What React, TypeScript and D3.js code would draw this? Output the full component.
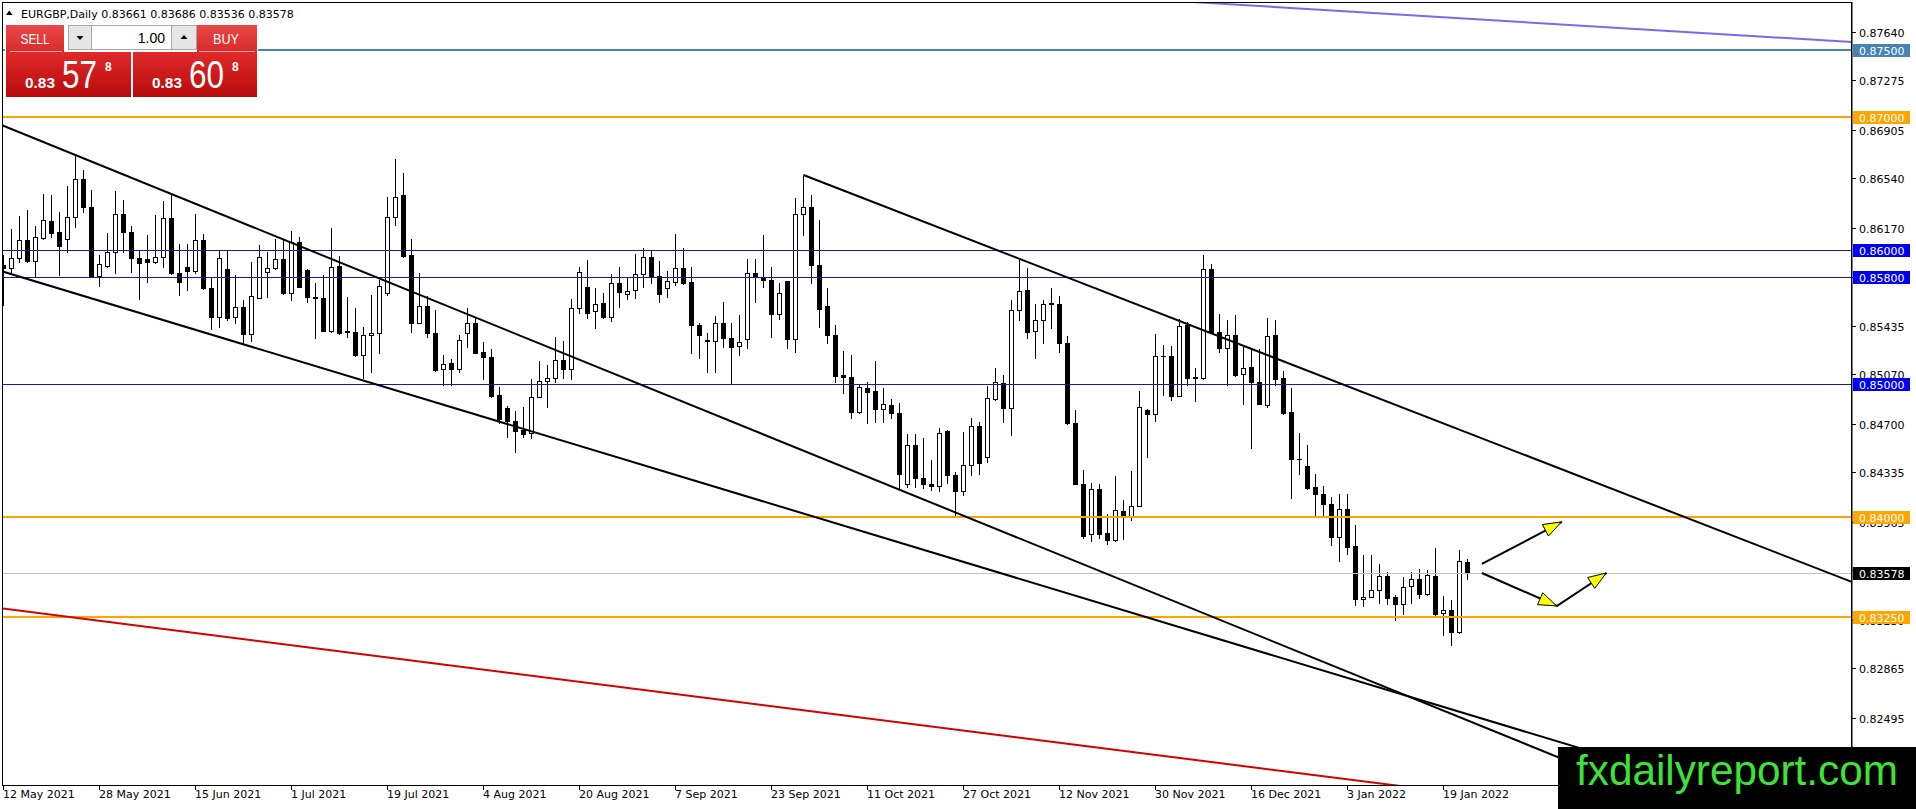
import React from 'react';
import * as d3 from 'd3';

// ---------- DATA ----------
const SYMBOL = 'EURGBP,Daily';
const LAST_OHLC = [0.83661, 0.83686, 0.83536, 0.83578];
const BID = 0.83578;
const SELL_PRICE = ['0.83', '57', '8'];
const BUY_PRICE = ['0.83', '60', '8'];
const LOT = '1.00';

// daily candles [open, high, low, close], 12 May 2021 .. 24 Jan 2022
const ohlc: [number, number, number, number][] = [
  [0.85890, 0.85965, 0.85590, 0.85865], [0.85870, 0.86158, 0.85840, 0.85940], [0.85940, 0.86258, 0.85915, 0.86078],
  [0.86078, 0.86303, 0.85915, 0.85922], [0.85922, 0.86183, 0.85803, 0.86098], [0.86095, 0.86423, 0.86083, 0.86228],
  [0.86220, 0.86415, 0.86103, 0.86133], [0.86135, 0.86290, 0.85815, 0.86035], [0.86083, 0.86483, 0.85990, 0.86253],
  [0.86253, 0.86715, 0.86173, 0.86533], [0.86533, 0.86603, 0.86290, 0.86328], [0.86323, 0.86453, 0.85803, 0.85808],
  [0.85810, 0.85965, 0.85735, 0.85895], [0.85885, 0.86128, 0.85878, 0.85985], [0.85985, 0.86448, 0.85833, 0.86273],
  [0.86273, 0.86378, 0.85990, 0.86140], [0.86140, 0.86183, 0.85840, 0.85940], [0.85940, 0.86003, 0.85635, 0.85908],
  [0.85935, 0.86115, 0.85765, 0.85910], [0.85910, 0.86265, 0.85903, 0.85948], [0.85948, 0.86370, 0.85878, 0.86240],
  [0.86240, 0.86415, 0.85823, 0.85828], [0.85828, 0.86048, 0.85665, 0.85765], [0.85875, 0.86048, 0.85703, 0.85848],
  [0.85848, 0.86273, 0.85828, 0.86078], [0.86078, 0.86123, 0.85710, 0.85715], [0.85715, 0.85803, 0.85408, 0.85503],
  [0.85503, 0.86003, 0.85423, 0.85940], [0.85858, 0.86003, 0.85478, 0.85495], [0.85498, 0.85815, 0.85458, 0.85573],
  [0.85573, 0.85628, 0.85298, 0.85370], [0.85370, 0.85915, 0.85323, 0.85658], [0.85645, 0.86040, 0.85640, 0.85948],
  [0.85840, 0.85990, 0.85653, 0.85865], [0.85865, 0.86083, 0.85858, 0.85935], [0.85935, 0.86078, 0.85673, 0.85683],
  [0.85683, 0.86148, 0.85628, 0.86065], [0.86065, 0.86098, 0.85723, 0.85728], [0.85853, 0.85858, 0.85610, 0.85648],
  [0.85650, 0.85753, 0.85340, 0.85643], [0.85640, 0.85815, 0.85393, 0.85398], [0.85398, 0.86165, 0.85390, 0.85873],
  [0.85883, 0.85958, 0.85373, 0.85378], [0.85393, 0.85648, 0.85353, 0.85388], [0.85390, 0.85565, 0.85208, 0.85213],
  [0.85213, 0.85423, 0.85040, 0.85363], [0.85365, 0.85665, 0.85090, 0.85378], [0.85378, 0.85778, 0.85233, 0.85733],
  [0.85678, 0.86398, 0.85665, 0.86248], [0.86248, 0.86683, 0.86190, 0.86403], [0.86415, 0.86578, 0.85948, 0.85958],
  [0.85965, 0.86083, 0.85390, 0.85458], [0.85458, 0.85828, 0.85453, 0.85583], [0.85583, 0.85658, 0.85353, 0.85378],
  [0.85378, 0.85553, 0.85098, 0.85103], [0.85108, 0.85215, 0.84990, 0.85145], [0.85153, 0.85183, 0.84990, 0.85108],
  [0.85108, 0.85365, 0.85090, 0.85328], [0.85378, 0.85565, 0.85278, 0.85453], [0.85453, 0.85498, 0.85228, 0.85233],
  [0.85240, 0.85315, 0.85033, 0.85198], [0.85198, 0.85258, 0.84898, 0.84908], [0.84915, 0.84978, 0.84703, 0.84733],
  [0.84815, 0.84833, 0.84598, 0.84723], [0.84723, 0.84798, 0.84490, 0.84648], [0.84653, 0.84823, 0.84598, 0.84623],
  [0.84633, 0.85033, 0.84590, 0.84903], [0.84903, 0.85170, 0.84898, 0.85023], [0.85023, 0.85140, 0.84828, 0.85040],
  [0.85040, 0.85348, 0.85015, 0.85178], [0.85178, 0.85320, 0.85040, 0.85108], [0.85108, 0.85633, 0.85033, 0.85565],
  [0.85565, 0.85878, 0.85533, 0.85840], [0.85723, 0.85928, 0.85490, 0.85533], [0.85548, 0.85715, 0.85415, 0.85598],
  [0.85603, 0.85678, 0.85490, 0.85498], [0.85498, 0.85823, 0.85473, 0.85753], [0.85753, 0.85873, 0.85573, 0.85685],
  [0.85673, 0.85803, 0.85633, 0.85698], [0.85703, 0.85973, 0.85640, 0.85820], [0.85820, 0.86015, 0.85723, 0.85953],
  [0.85953, 0.86003, 0.85753, 0.85810], [0.85810, 0.85923, 0.85610, 0.85670], [0.85715, 0.85848, 0.85653, 0.85773],
  [0.85765, 0.86123, 0.85740, 0.85865], [0.85865, 0.86015, 0.85748, 0.85758], [0.85760, 0.85873, 0.85228, 0.85438],
  [0.85440, 0.85458, 0.85190, 0.85363], [0.85325, 0.85378, 0.85090, 0.85320], [0.85320, 0.85508, 0.85090, 0.85453],
  [0.85453, 0.85615, 0.85278, 0.85340], [0.85340, 0.85458, 0.84995, 0.85278], [0.85283, 0.85515, 0.85215, 0.85310],
  [0.85333, 0.85935, 0.85265, 0.85828], [0.85828, 0.85933, 0.85615, 0.85803], [0.85798, 0.86115, 0.85723, 0.85778],
  [0.85778, 0.85878, 0.85353, 0.85520], [0.85523, 0.85753, 0.85483, 0.85678], [0.85770, 0.85773, 0.85265, 0.85333],
  [0.85333, 0.86390, 0.85240, 0.86273], [0.86273, 0.86565, 0.86115, 0.86328], [0.86328, 0.86415, 0.85758, 0.85888],
  [0.85888, 0.86228, 0.85428, 0.85558], [0.85583, 0.85715, 0.85308, 0.85363], [0.85363, 0.85440, 0.85015, 0.85058],
  [0.85065, 0.85248, 0.84933, 0.85048], [0.85048, 0.85215, 0.84740, 0.84790], [0.84790, 0.84990, 0.84778, 0.84973],
  [0.84965, 0.85015, 0.84708, 0.84940], [0.84948, 0.85170, 0.84715, 0.84808], [0.84808, 0.84965, 0.84715, 0.84845],
  [0.84840, 0.84883, 0.84740, 0.84778], [0.84778, 0.84853, 0.84215, 0.84323], [0.84248, 0.84623, 0.84223, 0.84538],
  [0.84538, 0.84623, 0.84223, 0.84290], [0.84290, 0.84590, 0.84215, 0.84248], [0.84248, 0.84428, 0.84203, 0.84233],
  [0.84233, 0.84665, 0.84198, 0.84628], [0.84648, 0.84653, 0.84258, 0.84315], [0.84315, 0.84340, 0.84008, 0.84198],
  [0.84198, 0.84640, 0.84165, 0.84390], [0.84390, 0.84740, 0.84315, 0.84683], [0.84683, 0.84715, 0.84323, 0.84408],
  [0.84448, 0.84983, 0.84415, 0.84890], [0.84888, 0.85120, 0.84880, 0.85013], [0.85005, 0.85063, 0.84713, 0.84820],
  [0.84820, 0.85630, 0.84618, 0.85555], [0.85555, 0.85925, 0.85475, 0.85693], [0.85700, 0.85870, 0.85345, 0.85388],
  [0.85393, 0.85600, 0.85195, 0.85475], [0.85475, 0.85625, 0.85305, 0.85600], [0.85603, 0.85718, 0.85418, 0.85598],
  [0.85600, 0.85655, 0.85238, 0.85308], [0.85308, 0.85358, 0.84695, 0.84705], [0.84705, 0.84805, 0.84245, 0.84250],
  [0.84250, 0.84355, 0.83845, 0.83855], [0.83870, 0.84255, 0.83820, 0.84213], [0.84213, 0.84250, 0.83843, 0.83875],
  [0.83880, 0.84025, 0.83795, 0.83825], [0.83825, 0.84305, 0.83820, 0.84055], [0.84045, 0.84130, 0.83838, 0.84013],
  [0.84010, 0.84345, 0.83975, 0.84085], [0.84085, 0.84943, 0.84080, 0.84825], [0.84805, 0.84810, 0.84450, 0.84770],
  [0.84770, 0.85370, 0.84720, 0.85210], [0.85210, 0.85288, 0.84913, 0.85205], [0.85205, 0.85280, 0.84875, 0.84910],
  [0.84910, 0.85488, 0.84905, 0.85430], [0.85438, 0.85463, 0.84988, 0.85045], [0.85048, 0.85120, 0.84870, 0.85043],
  [0.85045, 0.85963, 0.85038, 0.85863], [0.85863, 0.85895, 0.85380, 0.85388], [0.85388, 0.85520, 0.85238, 0.85270],
  [0.85270, 0.85480, 0.84988, 0.85368], [0.85368, 0.85513, 0.85055, 0.85063], [0.85075, 0.85275, 0.84845, 0.85120],
  [0.85125, 0.85250, 0.84520, 0.85013], [0.85013, 0.85263, 0.84845, 0.84850], [0.84838, 0.85495, 0.84825, 0.85358],
  [0.85368, 0.85480, 0.84988, 0.85038], [0.85045, 0.85095, 0.84775, 0.84783], [0.84788, 0.84970, 0.84145, 0.84433],
  [0.84438, 0.84630, 0.84325, 0.84433], [0.84383, 0.84538, 0.84213, 0.84220], [0.84225, 0.84325, 0.84013, 0.84170],
  [0.84175, 0.84230, 0.84013, 0.84095], [0.84100, 0.84150, 0.83788, 0.83850], [0.83850, 0.84175, 0.83670, 0.84063],
  [0.84063, 0.84175, 0.83720, 0.83775], [0.83780, 0.83938, 0.83338, 0.83383], [0.83383, 0.83713, 0.83330, 0.83400],
  [0.83400, 0.83713, 0.83400, 0.83455], [0.83455, 0.83645, 0.83355, 0.83555], [0.83555, 0.83588, 0.83350, 0.83395],
  [0.83400, 0.83413, 0.83230, 0.83345], [0.83350, 0.83550, 0.83275, 0.83475], [0.83480, 0.83588, 0.83355, 0.83538],
  [0.83538, 0.83613, 0.83395, 0.83420], [0.83420, 0.83605, 0.83413, 0.83563], [0.83555, 0.83770, 0.83263, 0.83275],
  [0.83283, 0.83405, 0.83113, 0.83300], [0.83300, 0.83380, 0.83038, 0.83138], [0.83138, 0.83755, 0.83130, 0.83668],
  [0.83661, 0.83686, 0.83536, 0.83578],
];

const xTickLabels = [
  '12 May 2021', '28 May 2021', '15 Jun 2021', '1 Jul 2021', '19 Jul 2021', '4 Aug 2021', '20 Aug 2021',
  '7 Sep 2021', '23 Sep 2021', '11 Oct 2021', '27 Oct 2021', '12 Nov 2021', '30 Nov 2021', '16 Dec 2021',
  '3 Jan 2022', '19 Jan 2022',
];
const xTickIndex = [0, 12, 24, 36, 48, 60, 72, 84, 96, 108, 120, 132, 144, 156, 168, 180];

const yTicks = [
  0.87640, 0.87275, 0.86905, 0.86540, 0.86170, 0.85800, 0.85435, 0.85070, 0.84700, 0.84335,
  0.83965, 0.83600, 0.83230, 0.82865, 0.82495,
];

const steelLevels = [0.875];
const orangeLevels = [0.87, 0.84, 0.8325];
const blueLevels = [0.86, 0.858, 0.85];

// trend lines as [bar index, price] anchor points
const channelUpper: [number, number][] = [[0, 0.86934], [200, 0.82060]];
const channelLower: [number, number][] = [[0, 0.85839], [200, 0.82213]];
const downTrend: [number, number][] = [[100, 0.86565], [200, 0.84236]];
const redLine: [number, number][] = [[0, 0.83313], [200, 0.81789]];
const purpleLine: [number, number][] = [[140, 0.87894], [230, 0.87566]];
const arrowUp: [number, number][] = [[184.8, 0.83648], [194.8, 0.83963]];
const arrowDip: [number, number][] = [[184.8, 0.83580], [194.2, 0.83333], [200.4, 0.83580]];

const WATERMARK = 'fxdailyreport.com';

// ---------- LAYOUT ----------
const W = 1916;
const H = 809;
const PL = 3, PR = 1852, PT = 3, PB = 785;
const FONT = '"DejaVu Sans", Verdana, sans-serif';

const x = d3.scaleLinear().domain([0, 230]).range([3, 1843]);
const y = d3.scaleLinear().domain([0.87855, 0.8199]).range([3, 785]);

const fmt = d3.format('.5f');

function extend(pts: [number, number][], from: number, to: number): [number, number][] {
  const [[i0, p0], [i1, p1]] = pts;
  const k = (p1 - p0) / (i1 - i0);
  return [[from, p0 + k * (from - i0)], [to, p0 + k * (to - i0)]];
}

const lineGen = d3.line<[number, number]>().x((d) => x(d[0]) + 0.5).y((d) => y(d[1]));

function ArrowHead({ from, to }: { from: [number, number]; to: [number, number] }) {
  const x1 = x(from[0]), y1 = y(from[1]), x2 = x(to[0]), y2 = y(to[1]);
  const dx = x2 - x1, dy = y2 - y1;
  const len = Math.hypot(dx, dy);
  const ux = dx / len, uy = dy / len;
  const L = 18, Wd = 6.5;
  const bx = x2 - ux * L, by = y2 - uy * L;
  const pts = [
    [x2, y2],
    [bx - uy * Wd, by + ux * Wd],
    [bx + uy * Wd, by - ux * Wd],
  ];
  return <polygon points={pts.map((p) => p.join(',')).join(' ')} fill="#ffff00" stroke="#000" strokeWidth={1} />;
}

function Candles() {
  return (
    <g>
      {ohlc.map(([o, h, l, c], i) => {
        const xc = Math.round(x(i));
        const yh = Math.round(y(h)), yl = Math.round(y(l));
        const top = Math.round(y(Math.max(o, c)));
        const bot = Math.round(y(Math.min(o, c)));
        const bull = c > o;
        const els: React.ReactNode[] = [
          <line key="w" x1={xc + 0.5} x2={xc + 0.5} y1={yh} y2={yl + 1} stroke="#000" strokeWidth={1} />,
        ];
        if (bot - top < 1) {
          els.push(<line key="b" x1={xc - 2} x2={xc + 3} y1={top + 0.5} y2={top + 0.5} stroke="#000" strokeWidth={1} />);
        } else if (bull) {
          els.push(<rect key="b" x={xc - 1.5} y={top + 0.5} width={4} height={bot - top} fill="#fff" stroke="#000" strokeWidth={1} />);
        } else {
          els.push(<rect key="b" x={xc - 2} y={top} width={5} height={bot - top + 1} fill="#000" />);
        }
        return <g key={i}>{els}</g>;
      })}
    </g>
  );
}

function LevelBox({ price, bg }: { price: number; bg: string }) {
  const yy = Math.round(y(price));
  return (
    <g>
      <rect x={1853} y={yy - 6} width={57} height={13} fill={bg} />
      <text x={1859} y={yy + 4.5} fontFamily={FONT} fontSize={11} fill="#fff">{fmt(price)}</text>
    </g>
  );
}

function Panel() {
  const big = 'Liberation Sans, Arial, sans-serif';
  const Tri = ({ cx, cy, up }: { cx: number; cy: number; up: boolean }) => (
    <polygon
      points={up ? `${cx - 3.5},${cy + 2} ${cx + 3.5},${cy + 2} ${cx},${cy - 2}` : `${cx - 3.5},${cy - 2} ${cx + 3.5},${cy - 2} ${cx},${cy + 2}`}
      fill="#000"
    />
  );
  const PriceText = ({ x0, parts }: { x0: number; parts: string[] }) => (
    <g fill="#fff" fontFamily={big}>
      <text x={x0} y={88} fontSize={15} fontWeight="bold" textLength={30} lengthAdjust="spacingAndGlyphs">{parts[0]}</text>
      <text x={x0 + 37} y={88} fontSize={39} textLength={35} lengthAdjust="spacingAndGlyphs">{parts[1]}</text>
      <text x={x0 + 80} y={70.5} fontSize={12} fontWeight="bold">{parts[2]}</text>
    </g>
  );
  return (
    <g>
      <defs>
        <linearGradient id="btnTop" x1="0" x2="0" y1="0" y2="1">
          <stop offset="0" stopColor="#e84848" />
          <stop offset="1" stopColor="#d92a2a" />
        </linearGradient>
        <linearGradient id="btnPrice" x1="0" x2="0" y1="0" y2="1">
          <stop offset="0" stopColor="#e02a2a" />
          <stop offset="1" stopColor="#b70a0a" />
        </linearGradient>
      </defs>
      <rect x={5} y={24} width={253} height={74} fill="#fff" />
      <rect x={6} y={25} width={58} height={27} fill="url(#btnTop)" />
      <line x1={10} x2={62} y1={51.5} y2={51.5} stroke="#f3a5a5" strokeWidth={1} />
      <text x={35} y={44} textAnchor="middle" fontFamily={big} fontSize={14} fill="#fff" textLength={29} lengthAdjust="spacingAndGlyphs">SELL</text>
      <rect x={68.5} y={25.5} width={128} height={24} fill="#fff" stroke="#a8a8a8" />
      <rect x={68.5} y={25.5} width={23} height={24} fill="#e6e6e6" stroke="#a8a8a8" />
      <rect x={171.5} y={25.5} width={25} height={24} fill="#e6e6e6" stroke="#a8a8a8" />
      <Tri cx={80} cy={38} up={false} />
      <Tri cx={184} cy={37} up={true} />
      <text x={165} y={43} textAnchor="end" fontFamily={big} fontSize={14} fill="#000">{LOT}</text>
      <rect x={197} y={25} width={60} height={27} fill="url(#btnTop)" />
      <line x1={199} x2={255} y1={51.5} y2={51.5} stroke="#f3a5a5" strokeWidth={1} />
      <text x={226} y={44} textAnchor="middle" fontFamily={big} fontSize={14} fill="#fff" textLength={26} lengthAdjust="spacingAndGlyphs">BUY</text>
      <rect x={6} y={52} width={125} height={45} fill="url(#btnPrice)" />
      <rect x={133} y={52} width={124} height={45} fill="url(#btnPrice)" />
      <PriceText x0={25} parts={SELL_PRICE} />
      <PriceText x0={152} parts={BUY_PRICE} />
    </g>
  );
}

export default function App() {
  const clip = 'url(#plotClip)';
  const levelLine = (p: number, color: string, w: number, key: string) => {
    const yy = w % 2 === 1 ? Math.round(y(p)) + 0.5 : Math.round(y(p));
    return <line key={key} x1={PL} x2={PR} y1={yy} y2={yy} stroke={color} strokeWidth={w} />;
  };
  return (
    <svg width={W} height={H} viewBox={`0 0 ${W} ${H}`} style={{ position: 'fixed', left: 0, top: 0, background: '#fff' }}>
      <defs>
        <clipPath id="plotClip">
          <rect x={PL} y={PT} width={PR - PL} height={PB - PT} />
        </clipPath>
      </defs>
      <rect x={0} y={0} width={W} height={H} fill="#fff" />

      {/* candles */}
      <g clipPath={clip}>
        <Candles />
      </g>

      {/* horizontal levels & trend lines */}
      <g clipPath={clip}>
        {levelLine(BID, '#c0c0c0', 1, 'bid')}
        {blueLevels.map((p, i) => levelLine(p, '#1a1aa8', 1, 'b' + i))}
        {steelLevels.map((p, i) => levelLine(p, '#4682b4', 2, 's' + i))}
        {orangeLevels.map((p, i) => levelLine(p, '#ffa500', 2, 'o' + i))}
        <path d={lineGen(extend(purpleLine, 100, 240)) || ''} fill="none" stroke="#7b68ee" strokeWidth={2} />
        <path d={lineGen(extend(channelUpper, -2, 240)) || ''} fill="none" stroke="#000" strokeWidth={2} />
        <path d={lineGen(extend(channelLower, -2, 240)) || ''} fill="none" stroke="#000" strokeWidth={2} />
        <path d={lineGen(extend(downTrend, 100, 240)) || ''} fill="none" stroke="#000" strokeWidth={2} />
        <path d={lineGen(extend(redLine, -2, 240)) || ''} fill="none" stroke="#d40000" strokeWidth={2} />
        <path d={lineGen(arrowUp) || ''} fill="none" stroke="#000" strokeWidth={2} />
        <path d={lineGen(arrowDip) || ''} fill="none" stroke="#000" strokeWidth={2} />
        <ArrowHead from={arrowUp[0]} to={arrowUp[1]} />
        <ArrowHead from={arrowDip[0]} to={arrowDip[1]} />
        <ArrowHead from={arrowDip[1]} to={arrowDip[2]} />
      </g>

      {/* frame */}
      <rect x={2.5} y={2.5} width={PR - 2.5} height={PB - 2} fill="none" stroke="#000" strokeWidth={1} />
      <line x1={PR - 0.5} x2={PR - 0.5} y1={2.5} y2={H} stroke="#000" strokeWidth={1} />

      {/* y axis */}
      <g fontFamily={FONT} fontSize={11} fill="#000">
        {yTicks.map((p) => {
          const yy = Math.round(y(p)) + 0.5;
          return (
            <g key={p}>
              <line x1={PR} x2={PR + 4} y1={yy} y2={yy} stroke="#000" />
              <text x={1859} y={yy + 4}>{fmt(p)}</text>
            </g>
          );
        })}
      </g>
      {steelLevels.map((p) => <LevelBox key={p} price={p} bg="#4682b4" />)}
      {orangeLevels.map((p) => <LevelBox key={p} price={p} bg="#ffa500" />)}
      {blueLevels.map((p) => <LevelBox key={p} price={p} bg="#0000f0" />)}
      <LevelBox price={BID} bg="#000" />

      {/* x axis */}
      <g fontFamily={FONT} fontSize={11} fill="#000">
        {xTickIndex.map((idx, k) => {
          const xx = Math.round(x(idx)) + 0.5;
          return (
            <g key={idx}>
              <line x1={xx} x2={xx} y1={PB} y2={PB + 5} stroke="#000" />
              <text x={xx - 0.5} y={798}>{xTickLabels[k]}</text>
            </g>
          );
        })}
      </g>

      {/* header */}
      <polygon points="6,15 12.5,15 9.25,10.5" fill="#000" />
      <text x={21} y={17.5} fontFamily={FONT} fontSize={11} fill="#000">
        {SYMBOL}{'  '}{LAST_OHLC.map((v) => fmt(v)).join(' ')}
      </text>
      <Panel />

      {/* watermark */}
      <rect x={1558} y={747} width={W - 1558} height={H - 747} fill="#000" />
      <text x={1576} y={785} fontFamily="Liberation Sans, Arial, sans-serif" fontSize={42} fill="#3de23a" textLength={322} lengthAdjust="spacingAndGlyphs">
        {WATERMARK}
      </text>
    </svg>
  );
}
